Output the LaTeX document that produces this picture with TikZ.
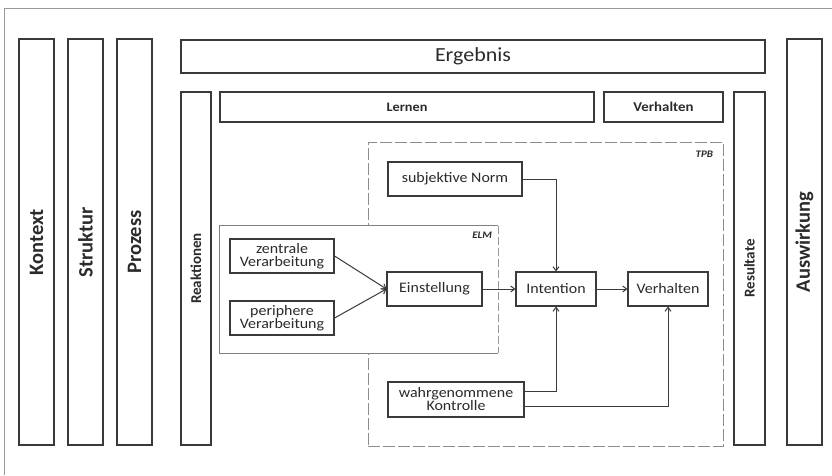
\documentclass[tikz,border=0pt]{standalone}
\usepackage{fontspec}
\setmainfont{Carlito}
\newfontfamily\wfont[FakeStretch=1.1]{Carlito}
\usetikzlibrary{arrows.meta}
\definecolor{edge}{HTML}{3A3A3A}
\definecolor{ink}{HTML}{2B2B2B}
\tikzset{
  colbox/.style={draw=edge, line width=1.6pt, inner sep=0pt, text=ink,
    font=\fontsize{20.5}{22}\selectfont\bfseries},
  barbox/.style={draw=edge, line width=1.4pt, inner sep=0pt, text=ink},
  sidebox/.style={draw=edge, line width=1.2pt, inner sep=0pt, text=ink,
    font=\fontsize{15}{16}\selectfont\bfseries},
  elembox/.style={draw=edge, line width=1.1pt, inner sep=0pt, fill=white,
    text=ink, align=center, font=\wfont\fontsize{14.5}{15}\selectfont},
  tag/.style={inner sep=0pt, text=ink, font=\wfont\fontsize{10}{11}\selectfont\bfseries\itshape},
  link/.style={draw=edge, line width=1pt, -{Straight Barb[length=4pt,width=6pt]}},
}
\begin{document}
\begin{tikzpicture}[x=1pt,y=-1pt]
\useasboundingbox (0,0) rectangle (832,475);
% outer frame
\draw[gray!80, line width=0.8pt] (4,475) -- (4,8) -- (832,8);

% perspective columns
\node[colbox, minimum width=35pt, minimum height=406pt] (kontext) at (36.5,242) {\rotatebox{90}{Kontext}};
\node[colbox, minimum width=35pt, minimum height=406pt] (struktur) at (85.5,242) {\rotatebox{90}{Struktur}};
\node[colbox, minimum width=35pt, minimum height=406pt] (prozess) at (134.5,242) {\rotatebox{90}{Prozess}};
\node[colbox, minimum width=35pt, minimum height=406pt] (auswirkung) at (804.5,242) {\rotatebox{90}{Auswirkung}};

% result bars
\node[barbox, minimum width=584pt, minimum height=33pt, font=\wfont\fontsize{20}{22}\selectfont] (ergebnis) at (473,56.5) {Ergebnis};
\node[barbox, minimum width=374pt, minimum height=30pt, font=\wfont\fontsize{13}{15}\selectfont\bfseries] (lernen) at (407,107) {Lernen};
\node[barbox, minimum width=119pt, minimum height=30pt, font=\wfont\fontsize{13.5}{15}\selectfont\bfseries] (verhtop) at (663.5,107) {Verhalten};
\node[sidebox, minimum width=30pt, minimum height=353pt] (reaktionen) at (196,268.5) {\rotatebox{90}{Reaktionen}};
\node[sidebox, minimum width=31pt, minimum height=353pt] (resultate) at (749.5,268.5) {\rotatebox{90}{Resultate}};

% TPB frame
\node[draw=gray!90, line width=0.7pt, dash pattern=on 12pt off 3pt, inner sep=0pt,
  minimum width=355pt, minimum height=304pt] (tpb) at (545.5,294) {};
\node[tag, anchor=north east] (tpblabel) at ([xshift=-10pt,yshift=-9pt]tpb.north east) {TPB};

% ELM frame
\node[fill=white, inner sep=0pt, minimum width=278pt, minimum height=127pt] (elm) at (359,289.5) {};
\draw[gray, line width=0.8pt] (elm.north east) -- (elm.north west) -- (elm.south west) -- (elm.south east);
\draw[gray!80, line width=0.7pt, dash pattern=on 8pt off 3pt] (elm.north east) -- (elm.south east);
\node[tag, anchor=north east] (elmlabel) at ([xshift=-6pt,yshift=-6pt]elm.north east) {ELM};

% model elements
\node[elembox, minimum width=104pt, minimum height=34pt] (zentral) at (282,256) {zentrale\\[-2pt]Verarbeitung};
\node[elembox, minimum width=104pt, minimum height=34pt] (peripher) at (282,318) {periphere\\[-2pt]Verarbeitung};
\node[elembox, minimum width=95pt, minimum height=34pt] (einst) at (434.5,289) {Einstellung};
\node[elembox, minimum width=80pt, minimum height=34pt] (intent) at (556,289) {Intention};
\node[elembox, minimum width=80pt, minimum height=34pt] (verh) at (668,289) {Verhalten};
\node[elembox, minimum width=134pt, minimum height=34pt] (norm) at (455,179) {subjektive Norm};
\node[elembox, minimum width=136pt, minimum height=35pt] (kontr) at (456,399.5) {wahrgenommene\\[-2pt]Kontrolle};

% connectors
\draw[link] (zentral.east) -- (einst.west);
\draw[link] (peripher.east) -- (einst.west);
\draw[link] (einst) -- (intent);
\draw[link] (intent) -- (verh);
\draw[link] (norm.east) -| (intent.north);
\draw[link] ([yshift=8pt]kontr.east) -| (intent.south);
\draw[link] ([yshift=-7pt]kontr.east) -| (verh.south);
\end{tikzpicture}
\end{document}
